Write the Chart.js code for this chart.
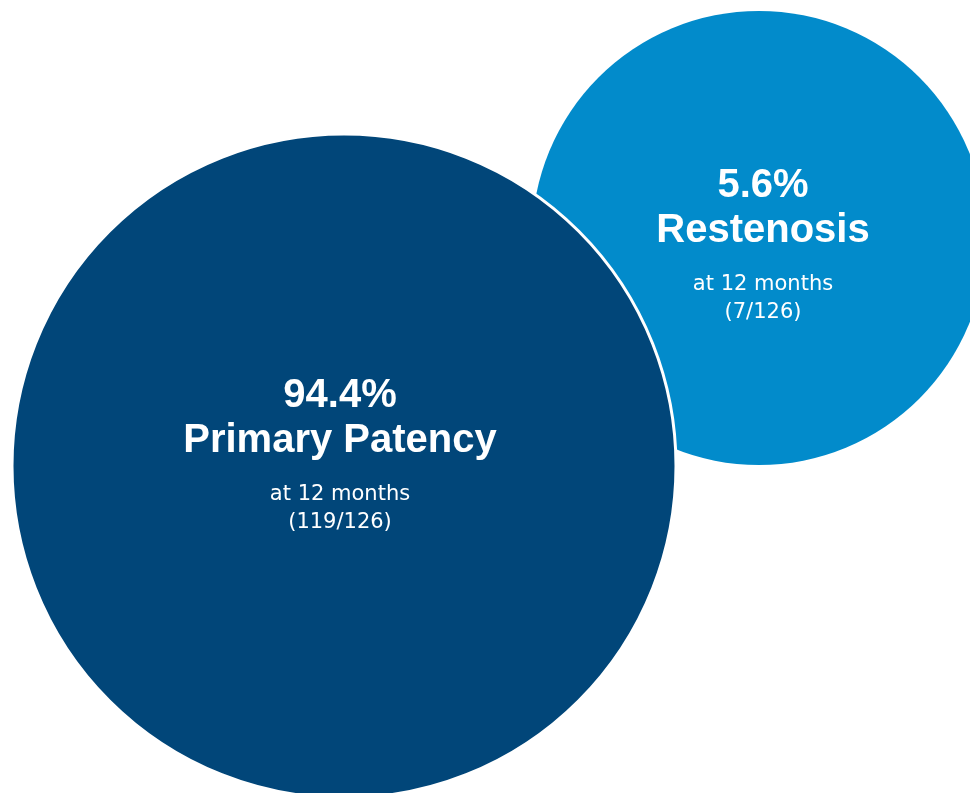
<!DOCTYPE html>
<html>
<head>
<meta charset="utf-8">
<script src="https://cdn.jsdelivr.net/npm/chart.js@4"></script>
<style>
    html, body { margin: 0; padding: 0; background: #ffffff; }
    #chart { display: block; }
</style>
</head>
<body>
<canvas id="chart" width="970" height="793"></canvas>
<script>
// values
const categories = ["Restenosis", "Primary Patency"];
const percentages = [5.6, 94.4];
const counts = [7, 119];
const totals = [126, 126];
const subtitle = "at 12 months";

// bubble placement (px on a 970x793 plane) and size
const bubbleX = [759, 344];
const bubbleY = [238, 466];
const bubbleR = [227, 332];

const fillColors = ["#028bcb", "#014679"];
const borderWidths = [0, 3];
// shift of the text block from the bubble centre
const textShiftX = [4, -4];
const textShiftY = [7, -11];

const points = categories.map((c, i) => ({ x: bubbleX[i], y: bubbleY[i], r: bubbleR[i] }));

const bubbleLabels = {
    id: "bubbleLabels",
    afterDatasetsDraw(chart) {
        const ctx = chart.ctx;
        const meta = chart.getDatasetMeta(0);
        ctx.save();
        ctx.fillStyle = "#ffffff";
        ctx.textAlign = "center";
        ctx.textBaseline = "alphabetic";
        meta.data.forEach((el, i) => {
            const cx = el.x + textShiftX[i];
            const cy = el.y + textShiftY[i];
            ctx.font = "bold 40px 'Liberation Sans', Arial, sans-serif";
            ctx.fillText(percentages[i].toFixed(1) + "%", cx, cy - 48);
            ctx.fillText(categories[i], cx, cy - 3);
            ctx.font = "21px 'DejaVu Sans', sans-serif";
            ctx.fillText(subtitle, cx, cy + 45);
            ctx.fillText("(" + counts[i] + "/" + totals[i] + ")", cx, cy + 73);
        });
        ctx.restore();
    }
};

new Chart(document.getElementById("chart"), {
    type: "bubble",
    data: {
        datasets: [{
            data: points,
            backgroundColor: fillColors,
            borderColor: "#ffffff",
            borderWidth: borderWidths,
            hoverRadius: 0,
            clip: false,
        }],
    },
    options: {
        responsive: false,
        animation: false,
        events: [],
        // bubbles are laid out on a pixel plane, so no auto padding
        layout: { padding: 0, autoPadding: false },
        plugins: {
            legend: { display: false },
            tooltip: { enabled: false },
        },
        scales: {
            x: { type: "linear", min: 0, max: 970, display: false },
            y: { type: "linear", min: 0, max: 793, reverse: true, display: false },
        },
    },
    plugins: [bubbleLabels],
});
</script>
</body>
</html>
